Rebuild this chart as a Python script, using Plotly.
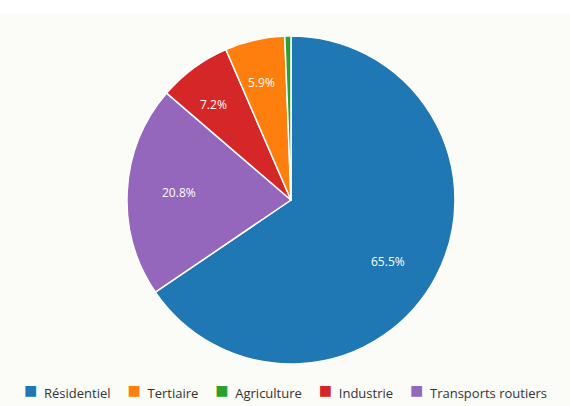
import math
import plotly.graph_objects as go

# Slice order (clockwise from top)
labels = ["Résidentiel", "Transports routiers", "Industrie", "Tertiaire", "Agriculture"]
values = [65.5, 20.8, 7.2, 5.9, 0.6]
colors = ["#1f77b4", "#9467bd", "#d62728", "#ff7f0e", "#2ca02c"]
show_label = [True, True, True, True, False]

# Legend order
legend_labels = ["Résidentiel", "Tertiaire", "Agriculture", "Industrie", "Transports routiers"]
legend_colors = ["#1f77b4", "#ff7f0e", "#2ca02c", "#d62728", "#9467bd"]

W, H = 570, 406
cx, cy, R = 0.5105, 0.5074, 164.0  # pie centre (paper) and radius (px)
dom_x = [cx - R / W, cx + R / W]
dom_y = [cy - R / H, cy + R / H]

fig = go.Figure()
fig.add_trace(go.Pie(
    labels=labels, values=values, sort=False, direction="clockwise", rotation=0,
    marker=dict(colors=colors, line=dict(color="white", width=1.5)),
    textinfo="none", hoverinfo="label+percent",
    showlegend=False, domain=dict(x=dom_x, y=dom_y),
))

# slice labels along the bisector at 0.8 R
annotations = []
total = sum(values)
cum = 0.0
for lab, v, show in zip(labels, values, show_label):
    mid = (cum + v / 2) / total * 2 * math.pi
    cum += v
    if not show:
        continue
    annotations.append(dict(
        x=cx + 0.8 * R * math.sin(mid) / W, y=cy + 0.8 * R * math.cos(mid) / H,
        xref="paper", yref="paper", text=f"{v / total * 100:.1f}%", showarrow=False,
        font=dict(color="white", size=12, family="Open Sans"),
    ))

# legend as a single text line with coloured squares
parts = [f"<span style='color:{c};font-size:22px'>■</span>&nbsp;&nbsp;{n}"
         for n, c in zip(legend_labels, legend_colors)]
legend_text = "&nbsp;&nbsp;&nbsp;&nbsp;&nbsp;".join(parts)
annotations.append(dict(
    x=0.5, y=(H - 389) / H, xref="paper", yref="paper", xanchor="center", yanchor="middle",
    text=legend_text, showarrow=False,
    font=dict(family="Open Sans", size=13, color="#333333"),
))

fig.update_layout(
    width=W, height=H, margin=dict(l=0, r=0, t=0, b=0),
    paper_bgcolor="#fbfbf7", showlegend=False,
    annotations=annotations,
    shapes=[dict(type="rect", xref="paper", yref="paper", x0=0, x1=1, y0=0.968, y1=1,
                 fillcolor="white", line=dict(width=0), layer="below")],
)
fig.write_html("out.html", config={"displayModeBar": False},
               post_script="document.body.style.margin='0';")
